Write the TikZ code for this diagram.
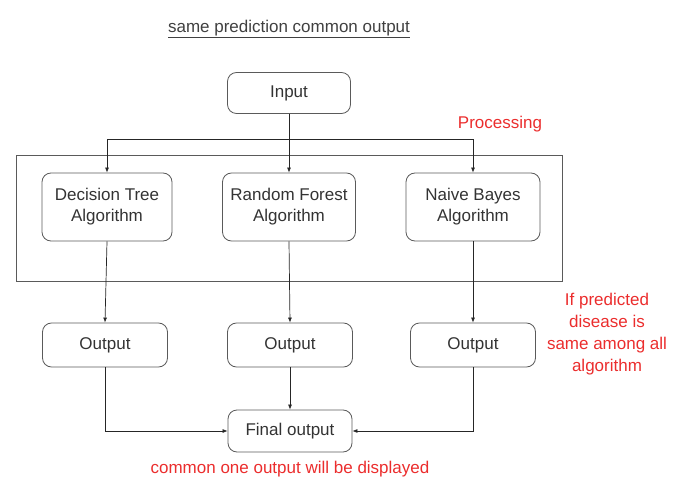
\documentclass[tikz,border=0pt]{standalone}
\usepackage{fontspec}
\setmainfont{Liberation Sans}
\usetikzlibrary{arrows.meta}
\definecolor{redtxt}{RGB}{235,45,45}
\definecolor{boxline}{RGB}{90,90,90}
\begin{document}
\begin{tikzpicture}[x=1pt,y=-1pt,
  rbox/.style={draw=boxline,line width=0.8pt,rounded corners=9pt,align=center,font=\fontsize{17}{21}\selectfont,text=black!80,inner sep=0pt},
  conn/.style={draw=black!85,line width=0.7pt},
  arr/.style={conn,-{Latex[length=5pt,width=4pt]}},
  redlab/.style={text=redtxt,align=center,font=\fontsize{17}{22}\selectfont,inner sep=0pt}]
\useasboundingbox (0,0) rectangle (680,481);
\node[font=\fontsize{17}{20}\selectfont,text=black!75,inner sep=0pt] (title) at (289,29) {\underline{same prediction common output}};
\node[rbox,minimum width=123pt,minimum height=41pt] (in) at (289,93) {Input};
\node[redlab] (proc) at (500,124) {Processing};
\node[draw=boxline,line width=0.8pt,minimum width=546pt,minimum height=126pt,inner sep=0pt] (frame) at (289,218) {};
\node[rbox,minimum width=130pt,minimum height=68pt] (dt) at (107,207) {Decision Tree\\Algorithm};
\node[rbox,minimum width=133pt,minimum height=68pt] (rf) at (289,207) {Random Forest\\Algorithm};
\node[rbox,minimum width=134pt,minimum height=68pt] (nb) at (473,207) {Naive Bayes\\Algorithm};
\node[rbox,minimum width=125pt,minimum height=44pt] (o1) at (105,345) {Output};
\node[rbox,minimum width=125pt,minimum height=44pt] (o2) at (290,345) {Output};
\node[rbox,minimum width=125pt,minimum height=44pt] (o3) at (473,345) {Output};
\node[rbox,minimum width=124pt,minimum height=42pt] (fin) at (290,431) {Final output};
\node[redlab] (note) at (607,334) {If predicted\\disease is\\same among all\\algorithm};
\node[redlab] (common) at (290,469) {common one output will be displayed};
\coordinate (split) at (289,139);
\draw[conn] (in.south) -- (split);
\draw[arr] (split) -- (rf.north);
\draw[arr] (split) -| (dt.north);
\draw[arr] (split) -| (nb.north);
\draw[arr] (dt.south) -- (o1.north);
\draw[arr] (rf.south) -- (o2.north);
\draw[arr] (nb.south) -- (o3.north);
\draw[arr] (o1.south) |- (fin.west);
\draw[arr] (o2.south) -- (fin.north);
\draw[arr] (o3.south) |- (fin.east);
\end{tikzpicture}
\end{document}
